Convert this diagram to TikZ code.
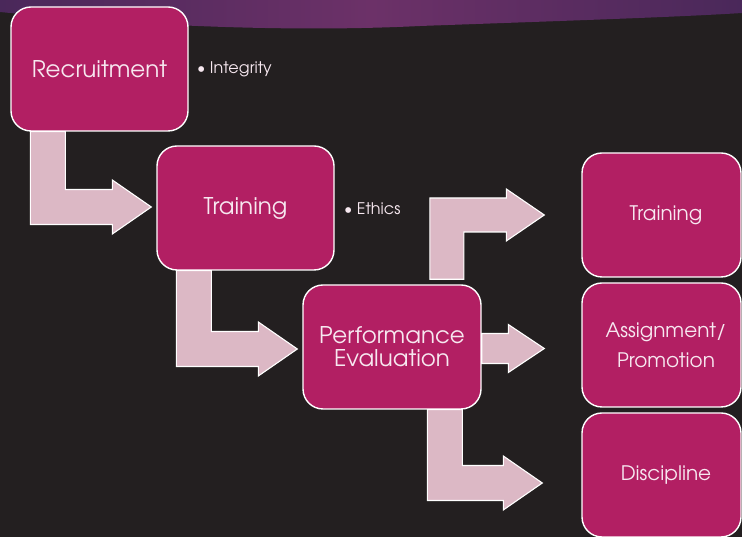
\documentclass[tikz,border=0pt]{standalone}
\usepackage{fontspec}
\setmainfont{texgyreadventor-regular.otf}
\usetikzlibrary{calc}
\definecolor{bgdark}{HTML}{231F20}
\definecolor{boxfill}{HTML}{B21F63}
\definecolor{arrfill}{HTML}{DCB8C5}
\definecolor{txtlight}{HTML}{F7E8F0}
\definecolor{bandmid}{HTML}{6C3168}
\definecolor{bandedge}{HTML}{4A285A}
\tikzset{
  stepbox/.style={draw=white, line width=1.4pt, fill=boxfill, rounded corners=20pt,
    minimum height=124pt, text=txtlight, align=center, inner sep=0pt},
  bigbox/.style={stepbox, minimum width=177pt, font=\fontsize{23}{26}\selectfont},
  smallbox/.style={stepbox, minimum width=159pt, font=\fontsize{20}{30}\selectfont},
  barrow/.style={draw=white, line width=1.1pt, fill=arrfill, line join=miter},
  bullettext/.style={text=txtlight, font=\fontsize{16}{18}\selectfont, anchor=west, inner sep=0pt}
}
\newcommand\bentdownarr[2]{%
  \draw[barrow] let \p1=(#1), \p2=(#2) in
  (\x1-17.5pt,\y1) -- (\x1+17.5pt,\y1) -- (\x1+17.5pt,\y2+17.5pt) -- (\x2-39pt,\y2+17.5pt)
  -- (\x2-39pt,\y2+27pt) -- (\x2,\y2) -- (\x2-39pt,\y2-27pt) -- (\x2-39pt,\y2-17.5pt)
  -- (\x1-17.5pt,\y2-17.5pt) -- cycle;}
\newcommand\bentuparr[2]{%
  \draw[barrow] let \p1=(#1), \p2=(#2) in
  (\x1-17pt,\y1) -- (\x1-17pt,\y2+17pt) -- (\x2-38pt,\y2+17pt) -- (\x2-38pt,\y2+26pt)
  -- (\x2,\y2) -- (\x2-38pt,\y2-26pt) -- (\x2-38pt,\y2-17pt) -- (\x1+17pt,\y2-17pt)
  -- (\x1+17pt,\y1) -- cycle;}
\newcommand\straightarr[2]{%
  \draw[barrow] let \p1=(#1), \p2=(#2) in
  (\x1,\y1+15pt) -- (\x2-36pt,\y1+15pt) -- (\x2-36pt,\y1+24pt) -- (\x2,\y1)
  -- (\x2-36pt,\y1-24pt) -- (\x2-36pt,\y1-15pt) -- (\x1,\y1-15pt) -- cycle;}
\begin{document}
\begin{tikzpicture}[x=1pt,y=1pt]
\fill[bgdark] (0,0) rectangle (742,537);
\useasboundingbox (0,0) rectangle (742,537);
% top band
\shade[left color=bandedge, right color=bandedge, middle color=bandmid]
  (0,537) -- (0,525) .. controls (150,510) and (300,505) .. (420,511)
  .. controls (560,516) and (680,520) .. (742,524) -- (742,537) -- cycle;
% boxes
\node[bigbox] (rec) at (99.5,468) {Recruitment};
\node[bigbox] (tr) at (245.5,329) {Training};
\node[bigbox, minimum width=178pt] (pe) at (392,190) {Performance\\[-3pt]Evaluation};
\node[smallbox] (t2) at (661.5,322) {\hspace{9pt}Training};
\node[smallbox] (as) at (661.5,192) {\hspace{9pt}Assignment/\\\hspace{9pt}Promotion};
\node[smallbox] (di) at (661.5,62) {\hspace{9pt}Discipline};
% bullet texts
\node[bullettext] (b1) at (197,468) {\textbullet\ Integrity};
\node[bullettext] (b2) at (344,328) {\textbullet\ Ethics};
% connector anchors
\coordinate (s1) at ($(rec.south west)+(37.5,0)$);
\coordinate (e1) at ($(tr.west)+(-5,1)$);
\coordinate (s2) at ($(tr.south west)+(37.5,0)$);
\coordinate (e2) at ($(pe.west)+(-5,-2)$);
\coordinate (s3) at ($(pe.north west)+(144.5,5)$);
\coordinate (e3) at ($(t2.west)+(-37,0)$);
\coordinate (s4) at ($(pe.east)+(0,-1.5)$);
\coordinate (e4) at ($(as.west)+(-37,0)$);
\coordinate (s5) at ($(pe.south west)+(142.5,0)$);
\coordinate (e5) at ($(di.west)+(-39,-8)$);
% arrows
\bentdownarr{s1}{e1}
\bentdownarr{s2}{e2}
\bentuparr{s3}{e3}
\straightarr{s4}{e4}
\bentdownarr{s5}{e5}
\end{tikzpicture}
\end{document}
